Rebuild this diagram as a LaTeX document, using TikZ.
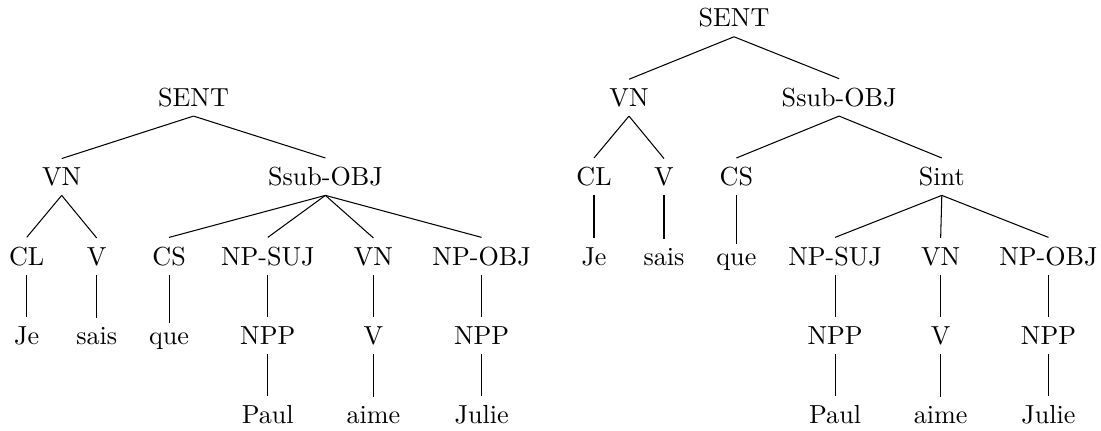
\documentclass[tikz,border=0pt]{standalone}
\begin{document}
\begin{tikzpicture}[x=0.3831pt,y=-0.3831pt,
  lbl/.style={anchor=base, inner sep=3.33pt},
  branch/.style={draw, line width=0.4pt}]
\useasboundingbox (0,0) rectangle (1101,431);
% ---------- left tree ----------
\node[lbl] (lS)    at (193.5,106.3) {SENT};
\node[lbl] (lVN)   at (61.7,185.6)  {VN};
\node[lbl] (lSsub) at (325.4,185.6) {Ssub-OBJ};
\node[lbl] (lCL)   at (26.7,265)  {CL};
\node[lbl] (lV)    at (96.7,265)  {V};
\node[lbl] (lCS)   at (169.1,265) {CS};
\node[lbl] (lNPS)  at (267.8,265) {NP-SUJ};
\node[lbl] (lVNb)  at (373.4,265) {VN};
\node[lbl] (lNPO)  at (481.6,265) {NP-OBJ};
\node[lbl] (lJe)   at (26.7,344.3)  {Je};
\node[lbl] (lsais) at (96.7,344.3)  {sais};
\node[lbl] (lque)  at (169.1,344.3) {que};
\node[lbl] (lNPPa) at (267.8,344.3) {NPP};
\node[lbl] (lVb)   at (373.4,344.3) {V};
\node[lbl] (lNPPb) at (481.6,344.3) {NPP};
\node[lbl] (lPaul) at (267.8,423.6) {Paul};
\node[lbl] (laime) at (373.4,423.6) {aime};
\node[lbl] (lJulie) at (481.6,423.6) {Julie};
% ---------- right tree ----------
\node[lbl] (rS)    at (734,27)      {SENT};
\node[lbl] (rVN)   at (629,106.3)   {VN};
\node[lbl] (rSsub) at (839.1,106.3) {Ssub-OBJ};
\node[lbl] (rCL)   at (594,185.6)   {CL};
\node[lbl] (rV)    at (664,185.6)   {V};
\node[lbl] (rCS)   at (736.4,185.6) {CS};
\node[lbl] (rSint) at (941.8,185.6) {Sint};
\node[lbl] (rJe)   at (594,265)     {Je};
\node[lbl] (rsais) at (664,265)     {sais};
\node[lbl] (rque)  at (736.4,265)   {que};
\node[lbl] (rNPS)  at (835.1,265)   {NP-SUJ};
\node[lbl] (rVNb)  at (940.65,265)  {VN};
\node[lbl] (rNPO)  at (1048.5,265)  {NP-OBJ};
\node[lbl] (rNPPa) at (835.1,344.3) {NPP};
\node[lbl] (rVb)   at (940.65,344.3) {V};
\node[lbl] (rNPPb) at (1048.5,344.3) {NPP};
\node[lbl] (rPaul) at (835.1,423.6) {Paul};
\node[lbl] (raime) at (940.65,423.6) {aime};
\node[lbl] (rJulie) at (1048.5,423.6) {Julie};
% ---------- branches ----------
\foreach \a/\b in {lS/lVN, lS/lSsub, lVN/lCL, lVN/lV, lSsub/lCS, lSsub/lNPS,
  lSsub/lVNb, lSsub/lNPO, lCL/lJe, lV/lsais, lCS/lque, lNPS/lNPPa, lVNb/lVb,
  lNPO/lNPPb, lNPPa/lPaul, lVb/laime, lNPPb/lJulie,
  rS/rVN, rS/rSsub, rVN/rCL, rVN/rV, rSsub/rCS, rSsub/rSint, rCL/rJe, rV/rsais,
  rCS/rque, rSint/rNPS, rSint/rVNb, rSint/rNPO, rNPS/rNPPa, rVNb/rVb,
  rNPO/rNPPb, rNPPa/rPaul, rVb/raime, rNPPb/rJulie}
  \path[branch] (\a.south) -- (\b.north);
\end{tikzpicture}
\end{document}
